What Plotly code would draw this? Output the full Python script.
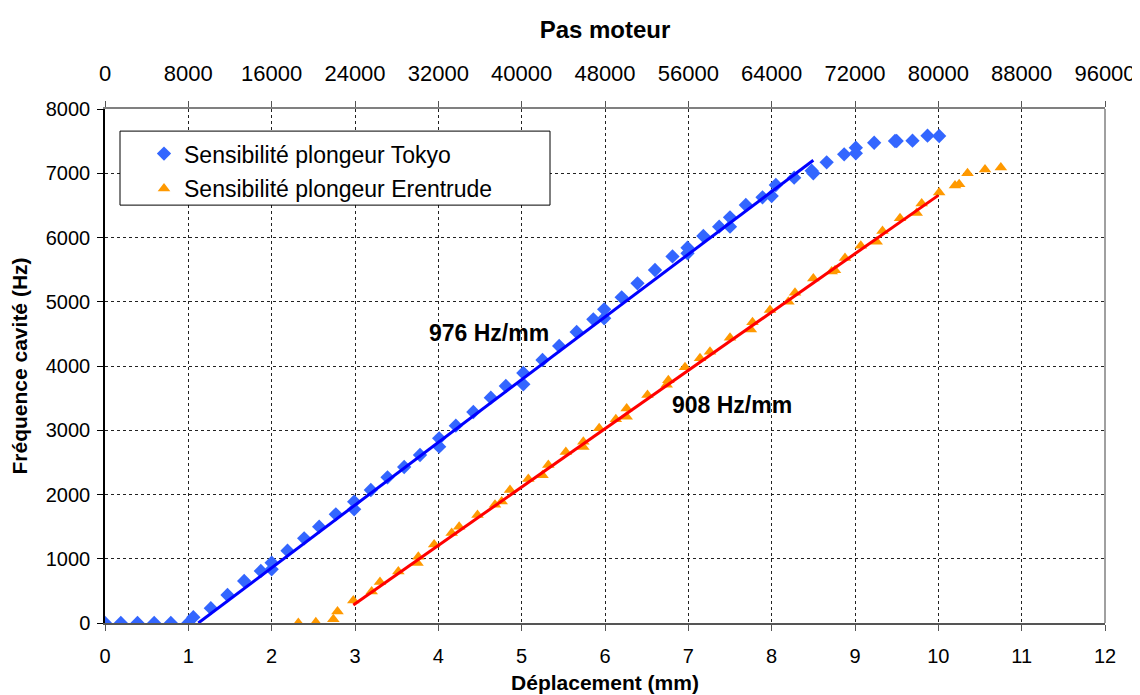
import plotly.graph_objects as go

# ---- data ----
tokyo_x = [0, 0.19, 0.39, 0.59, 0.79, 1.0, 1.06, 1.27, 1.47, 1.67, 1.87, 2.0, 2.0, 2.19, 2.39,
           2.57, 2.77, 2.99, 2.99, 3.19, 3.39, 3.59, 3.78, 4.01, 4.01, 4.21, 4.42, 4.63, 4.81,
           5.02, 5.02, 5.25, 5.45, 5.66, 5.86, 5.99, 5.99, 6.2, 6.39, 6.6, 6.81, 6.99, 6.99,
           7.18, 7.37, 7.5, 7.5, 7.69, 7.89, 8.0, 8.05, 8.27, 8.48, 8.5, 8.66, 8.87, 9.01,
           9.01, 9.23, 9.48, 9.5, 9.69, 9.87, 10.01]
tokyo_y = [0, 0, 0, 0, 0, 0, 90, 230, 436, 654, 809, 938, 836, 1125, 1318,
           1499, 1692, 1888, 1770, 2070, 2268, 2428, 2615, 2875, 2744, 3071, 3284, 3507, 3689,
           3891, 3715, 4093, 4311, 4529, 4727, 4882, 4743, 5069, 5287, 5494, 5705, 5841, 5754,
           6023, 6168, 6314, 6168, 6506, 6626, 6646, 6817, 6931, 7040, 7000, 7170, 7295, 7398,
           7310, 7475, 7502, 7502, 7507, 7585, 7580]

eren_x = [2.32, 2.53, 2.74, 2.79, 2.98, 3.2, 3.3, 3.52, 3.75, 3.76, 3.95, 4.16, 4.25, 4.47,
          4.68, 4.76, 4.86, 5.08, 5.25, 5.32, 5.53, 5.74, 5.74, 5.93, 6.13, 6.26, 6.26, 6.51,
          6.74, 6.76, 6.96, 7.14, 7.26, 7.5, 7.75, 7.77, 7.98, 8.2, 8.28, 8.5, 8.72, 8.76,
          8.88, 9.07, 9.26, 9.33, 9.54, 9.74, 9.8, 10.01, 10.2, 10.25, 10.35, 10.56, 10.75]
eren_y = [0, 10, 60, 180, 350, 490, 640, 800, 935, 1030, 1220, 1400, 1500, 1680,
          1840, 1890, 2070, 2240, 2300, 2460, 2660, 2820, 2740, 3030, 3170, 3340, 3210, 3550,
          3710, 3780, 3980, 4120, 4220, 4440, 4570, 4680, 4870, 5000, 5140, 5360, 5470, 5490,
          5680, 5870, 5935, 6100, 6300, 6380, 6530, 6700, 6810, 6830, 7000, 7060, 7090]

# linear fits: slope (Hz/mm), zero crossing (mm), fitted x-range
tokyo_slope, tokyo_x0, tokyo_range = 976, 1.12, [1.12, 8.5]
eren_slope, eren_x0, eren_range = 908, 2.67, [2.98, 10.0]

steps_per_mm = 8000
x_ticks_mm = list(range(0, 13))
top_ticks = [v * steps_per_mm for v in x_ticks_mm]
top_ticktext = [str(v) for v in top_ticks]

series_names = ["Sensibilité plongeur Tokyo", "Sensibilité plongeur Erentrude"]
slope_labels = ["976 Hz/mm", "908 Hz/mm"]

FONT = "Arial, Liberation Sans, sans-serif"
GRID = "#222222"

fig = go.Figure()

fig.add_trace(go.Scatter(
    x=tokyo_x, y=tokyo_y, mode="markers", name=series_names[0], legendgroup="a",
    marker=dict(symbol="diamond", size=11, color="#3366FF", line=dict(width=0)),
))
fig.add_trace(go.Scatter(
    x=eren_x, y=eren_y, mode="markers", name=series_names[1], legendgroup="b",
    marker=dict(symbol="triangle-up", size=11, color="#FF9900", line=dict(width=0)),
))
fig.add_trace(go.Scatter(
    x=tokyo_range, y=[tokyo_slope * (v - tokyo_x0) for v in tokyo_range],
    mode="lines", line=dict(color="#0000FF", width=3), showlegend=False, hoverinfo="skip",
))
fig.add_trace(go.Scatter(
    x=eren_range, y=[eren_slope * (v - eren_x0) for v in eren_range],
    mode="lines", line=dict(color="#FF0000", width=3), showlegend=False, hoverinfo="skip",
))
# invisible trace to anchor the top axis
fig.add_trace(go.Scatter(
    x=[top_ticks[0], top_ticks[-1]], y=[0, 0], xaxis="x2", mode="lines",
    line=dict(width=0), showlegend=False, hoverinfo="skip",
))

fig.add_annotation(x=4.61, y=4514, text="<b>" + slope_labels[0] + "</b>", showarrow=False,
                   font=dict(family=FONT, size=23, color="black"))
fig.add_annotation(x=7.52, y=3393, text="<b>" + slope_labels[1] + "</b>", showarrow=False,
                   font=dict(family=FONT, size=23, color="black"))

# right frame border
fig.add_shape(type="line", xref="x domain", yref="y domain", x0=1, x1=1, y0=0, y1=1,
              line=dict(color="#808080", width=1.5))
# legend box
fig.add_shape(type="rect", xref="paper", yref="paper", x0=0.015, x1=0.445, y0=0.813, y1=0.957,
              line=dict(color="black", width=1), fillcolor="white", layer="above")

# the page body adds an 8px offset, so the figure is 8px smaller than the window
fig.update_layout(
    width=1132, height=687,
    margin=dict(l=97, r=35, t=101, b=72),
    paper_bgcolor="white", plot_bgcolor="white",
    font=dict(family=FONT, size=20, color="black"),
    showlegend=True,
    legend=dict(
        x=0.039, y=0.955, xanchor="left", yanchor="top",
        bgcolor="rgba(0,0,0,0)", borderwidth=0, tracegroupgap=2,
        font=dict(family=FONT, size=23, color="black"),
    ),
    xaxis=dict(
        range=[0, 12], tickvals=x_ticks_mm, ticks="outside", ticklen=6, tickcolor="#555555",
        showline=True, linecolor="#555555", linewidth=1.5,
        showgrid=True, gridcolor=GRID, griddash="3px,3px", gridwidth=1,
        zeroline=False, automargin=False, ticklabelstandoff=8,
        tickfont=dict(family=FONT, size=20),
        title=dict(text="<b>Déplacement (mm)</b>", font=dict(family=FONT, size=21), standoff=10),
    ),
    xaxis2=dict(
        overlaying="x", side="top", anchor="y",
        range=[0, 96000], tickvals=top_ticks, ticktext=top_ticktext,
        ticks="outside", ticklen=6, tickcolor="#555555",
        showline=True, linecolor="#808080", linewidth=1.5,
        showgrid=False, zeroline=False, automargin=False, ticklabelstandoff=11,
        tickfont=dict(family=FONT, size=22),
        title=dict(text="<b>Pas moteur</b>", font=dict(family=FONT, size=24), standoff=16),
    ),
    yaxis=dict(
        range=[0, 8000], dtick=1000, ticks="outside", ticklen=6, tickcolor="black",
        showline=True, linecolor="black", linewidth=1.5,
        showgrid=True, gridcolor=GRID, griddash="3px,3px", gridwidth=1,
        zeroline=False, automargin=False, ticklabelstandoff=3,
        tickfont=dict(family=FONT, size=20),
        title=dict(text="<b>Fréquence cavité (Hz)</b>", font=dict(family=FONT, size=21), standoff=12),
    ),
)

fig.write_html("out.html")
